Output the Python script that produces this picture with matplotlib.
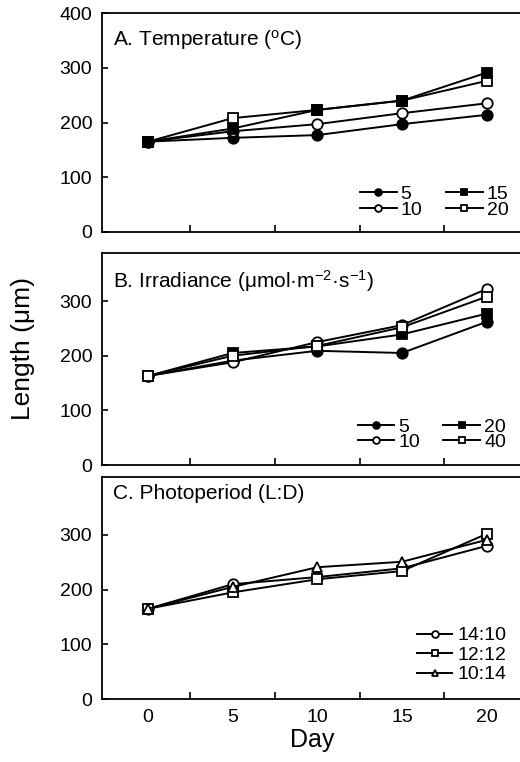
import matplotlib
matplotlib.use('Agg')
import matplotlib.pyplot as plt
import numpy as np

plt.rcParams['font.family'] = ['Liberation Sans', 'DejaVu Sans']
plt.rcParams['mathtext.fontset'] = 'custom'
plt.rcParams['mathtext.rm'] = 'Liberation Sans'
plt.rcParams['mathtext.it'] = 'Liberation Sans:italic'

days = [0, 5, 10, 15, 20]

# A. Temperature
temp_labels = ['5', '10', '15', '20']
temp_5 = [165, 172, 177, 197, 214]
temp_10 = [165, 184, 197, 217, 235]
temp_15 = [165, 189, 223, 240, 291]
temp_20 = [165, 208, 223, 240, 276]

# B. Irradiance
irr_labels = ['5', '10', '20', '40']
irr_5 = [163, 191, 209, 205, 262]
irr_10 = [163, 188, 225, 256, 322]
irr_20 = [163, 205, 217, 239, 277]
irr_40 = [163, 200, 218, 252, 308]

# C. Photoperiod
photo_labels = ['14:10', '12:12', '10:14']
photo_1410 = [165, 210, 223, 239, 280]
photo_1212 = [165, 195, 219, 234, 302]
photo_1014 = [165, 205, 241, 251, 291]

W, H = 520, 762
fig = plt.figure(figsize=(W / 100, H / 100), dpi=100)


def px_axes(left, right, top, bottom):
    return fig.add_axes([left / W, 1 - bottom / H, (right - left) / W, (bottom - top) / H])


def style(ax, ymax, yticks, show_x):
    ax.set_xlim(-2.72, 22.15)
    ax.set_ylim(0, ymax)
    for s in ax.spines.values():
        s.set_linewidth(1.3)
    ax.set_xticks([2.5, 7.5, 12.5, 17.5])
    ax.set_xticklabels([])
    ax.tick_params(axis='x', which='major', direction='in', length=5, width=1.2)
    ax.set_yticks(yticks)
    ax.tick_params(axis='y', direction='in', length=4, width=1.2, labelsize=14, pad=7)
    if show_x:
        ax.set_xticks(days, minor=True)
        ax.set_xticklabels([str(d) for d in days], minor=True)
        ax.tick_params(axis='x', which='minor', length=0, labelsize=14, pad=7)


def series(ax, y, marker, filled, label):
    ax.plot(days, y, color='black', lw=1.4, marker=marker, ms=7.5,
            mfc='black' if filled else 'white', mec='black', mew=1.3,
            label=label, clip_on=False)


axA = px_axes(102, 523, 13, 232)
style(axA, 400, [0, 100, 200, 300, 400], False)
series(axA, temp_5, 'o', True, temp_labels[0])
series(axA, temp_10, 'o', False, temp_labels[1])
series(axA, temp_20, 's', False, temp_labels[3])
series(axA, temp_15, 's', True, temp_labels[2])
axA.text(0.025, 0.93, r'A. Temperature ($^{\rm o}$C)', transform=axA.transAxes,
         fontsize=15, va='top', ha='left')
h, l = axA.get_legend_handles_labels()
order = [0, 1, 3, 2]
axA.legend([h[i] for i in order], [l[i] for i in order], ncol=2, loc='lower right',
           bbox_to_anchor=(0.965, 0.06), frameon=False, fontsize=14, markerscale=0.65,
           handlelength=1.9, handletextpad=0.2, columnspacing=1.2, labelspacing=-0.1,
           borderpad=0, borderaxespad=0)

axB = px_axes(102, 523, 253, 465)
style(axB, 388, [0, 100, 200, 300], False)
series(axB, irr_5, 'o', True, irr_labels[0])
series(axB, irr_10, 'o', False, irr_labels[1])
series(axB, irr_20, 's', True, irr_labels[2])
series(axB, irr_40, 's', False, irr_labels[3])
axB.text(0.025, 0.93, 'B. Irradiance (μmol·m$^{-2}$·s$^{-1}$)', transform=axB.transAxes,
         fontsize=15, va='top', ha='left')
axB.legend(ncol=2, loc='lower right', bbox_to_anchor=(0.96, 0.065), frameon=False,
           fontsize=14, markerscale=0.65, handlelength=1.9, handletextpad=0.2,
           columnspacing=1.2, labelspacing=-0.1, borderpad=0, borderaxespad=0)

axC = px_axes(102, 523, 477, 699)
style(axC, 406, [0, 100, 200, 300], True)
series(axC, photo_1410, 'o', False, photo_labels[0])
series(axC, photo_1212, 's', False, photo_labels[1])
series(axC, photo_1014, '^', False, photo_labels[2])
axC.text(0.025, 0.97, 'C. Photoperiod (L:D)', transform=axC.transAxes,
         fontsize=15, va='top', ha='left')
axC.legend(loc='lower right', bbox_to_anchor=(0.96, 0.07), frameon=False,
           fontsize=14, markerscale=0.65, handlelength=1.8, handletextpad=0.25,
           labelspacing=0.1, borderpad=0, borderaxespad=0)
axC.set_xlabel('Day', fontsize=18, labelpad=2)

fig.text(23 / W, 1 - 348 / H, 'Length (μm)', rotation=90, fontsize=19,
         ha='center', va='center')

fig.savefig('out.png', dpi=100)
